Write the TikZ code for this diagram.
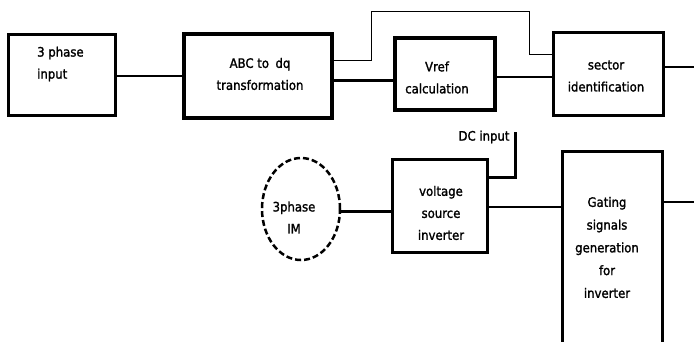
\documentclass[tikz,border=0pt]{standalone}
\usepackage{fontspec}
\setmainfont{DejaVu Sans Condensed}[FakeBold=1.5]
\begin{document}
\begin{tikzpicture}[x=1pt,y=-1pt,
  blk/.style={draw,rectangle,inner sep=0pt},
  txt/.style={inner sep=0pt,align=center,font=\fontsize{13}{22}\selectfont},
  conn/.style={line width=2pt},
  thinline/.style={line width=1pt},
  heavy/.style={line width=3pt}]
\useasboundingbox (0,0) rectangle (694,341);
% boxes
\node[blk,line width=3pt,minimum width=107pt,minimum height=81pt] (in3) at (61.5,74.5) {};
\node[blk,line width=4pt,minimum width=148pt,minimum height=84pt] (abc) at (258,76) {};
\node[blk,line width=4pt,minimum width=100pt,minimum height=72pt] (vref) at (445,74) {};
\node[blk,line width=3pt,minimum width=110pt,minimum height=83pt] (sector) at (608,73.5) {};
\node[blk,line width=3pt,minimum width=95pt,minimum height=93pt] (vsi) at (439.5,205.5) {};
\node[blk,line width=3pt,minimum width=100pt,minimum height=197pt] (gate) at (612,249.5) {};
\draw[line width=2.5pt,dash pattern=on 6pt off 3pt] (301,209) ellipse [x radius=39pt,y radius=51pt];
\coordinate (im) at (301,209);
\coordinate (imE) at (340,211);
% texts
\node[txt,align=left,anchor=west] (t1) at (37,64) {3 phase\\input};
\node[txt] (t2) at (260,74) {ABC to\enspace dq\\transformation};
\node[txt] (t3) at (437,77.5) {Vref\\calculation};
\node[txt] (t4) at (606,76) {sector\\identification};
\node[txt] (t5) at (441,213) {voltage\\source\\inverter};
\node[txt] (t6) at (294,217.5) {3phase\\IM};
\node[txt,font=\fontsize{13}{22.75}\selectfont] (t7) at (607,247.5) {Gating\\signals\\generation\\for\\inverter};
\node[txt] (t8) at (484,137) {DC input};
% coordinates
\coordinate (fbA) at (371,11);
\coordinate (fbB) at (529,11);
\coordinate (outR) at (694,67);
\coordinate (outR2) at (694,202);
\coordinate (dcTop) at (515,132);
% connectors
\draw[conn] (in3.east |- abc.west) -- (abc.west);
\draw[thinline] (abc.east |- 0,60) -| (fbA) -- (fbB) |- (sector.west |- 0,54);
\draw[heavy] (abc.east |- 0,80) -- (vref.west |- 0,80);
\draw[conn] (vref.east |- 0,77) -- (sector.west |- 0,77);
\draw[conn] (sector.east |- outR) -- (outR);
\draw[heavy] (dcTop) |- (vsi.east |- 0,177);
\draw[heavy] (imE) -- (vsi.west |- imE);
\draw[conn] (vsi.east |- 0,207) -- (gate.west |- 0,207);
\draw[conn] (gate.east |- outR2) -- (outR2);
\end{tikzpicture}
\end{document}
